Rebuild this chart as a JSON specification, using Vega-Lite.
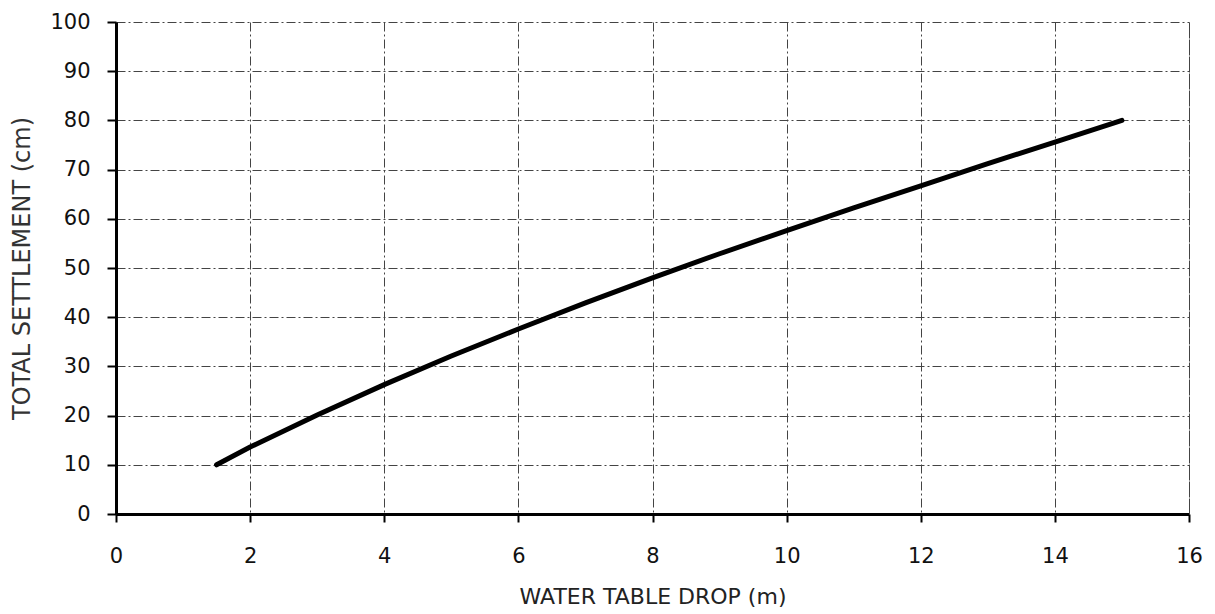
{
  "$schema": "https://vega.github.io/schema/vega-lite/v6.json",
  "autosize": "none",
  "width": 1073,
  "height": 492,
  "padding": {"left": 116, "top": 22, "right": 26, "bottom": 100},
  "background": "white",
  "config": {
    "view": {"stroke": null},
    "font": "DejaVu Sans"
  },
  "data": {
    "values": [
      {"drop": 1.5, "settlement": 10.0},
      {"drop": 2, "settlement": 13.6},
      {"drop": 3, "settlement": 20.1},
      {"drop": 4, "settlement": 26.3},
      {"drop": 5, "settlement": 32.1},
      {"drop": 6, "settlement": 37.6},
      {"drop": 7, "settlement": 42.9},
      {"drop": 8, "settlement": 48.0},
      {"drop": 9, "settlement": 52.9},
      {"drop": 10, "settlement": 57.6},
      {"drop": 11, "settlement": 62.2},
      {"drop": 12, "settlement": 66.7},
      {"drop": 13, "settlement": 71.2},
      {"drop": 14, "settlement": 75.6},
      {"drop": 15, "settlement": 80.0}
    ]
  },
  "layer": [
    {
      "mark": {"type": "line", "color": "black", "strokeWidth": 5, "strokeCap": "round"},
      "encoding": {
        "x": {
          "field": "drop", "type": "quantitative",
          "scale": {"domain": [0, 16], "nice": false},
          "axis": {
            "orient": "bottom",
            "values": [0, 2, 4, 6, 8, 10, 12, 14, 16],
            "format": "d",
            "labelFlush": false,
            "title": "WATER TABLE DROP (m)",
            "titlePadding": 20,
            "labelFont": "DejaVu Sans", "labelFontSize": 21, "labelColor": "#111",
            "titleFont": "DejaVu Sans", "titleFontSize": 22, "titleFontWeight": "normal", "titleColor": "#222",
            "domainColor": "black", "domainWidth": 3,
            "tickColor": "black", "tickWidth": 2, "tickSize": 8,
            "labelPadding": 23,
            "grid": true, "gridColor": "#444", "gridWidth": 1, "gridDash": [9, 3, 2, 3]
          }
        },
        "y": {
          "field": "settlement", "type": "quantitative",
          "scale": {"domain": [0, 100], "nice": false},
          "axis": {
            "orient": "left",
            "values": [0, 10, 20, 30, 40, 50, 60, 70, 80, 90, 100],
            "format": "d",
            "labelFlush": false,
            "title": "TOTAL SETTLEMENT (cm)",
            "titlePadding": 15,
            "labelFont": "DejaVu Sans", "labelFontSize": 21, "labelColor": "#111",
            "titleFont": "DejaVu Sans", "titleFontSize": 24, "titleFontWeight": "normal", "titleColor": "#333",
            "domainColor": "black", "domainWidth": 3,
            "tickColor": "black", "tickWidth": 2, "tickSize": 9,
            "labelPadding": 17,
            "grid": true, "gridColor": "#444", "gridWidth": 1, "gridDash": [9, 3, 2, 3]
          }
        }
      }
    },
    {
      "mark": {"type": "line", "opacity": 0},
      "encoding": {
        "x": {
          "field": "drop", "type": "quantitative",
          "scale": {"domain": [0, 16], "nice": false}
        },
        "y": {
          "field": "settlement", "type": "quantitative",
          "scale": {"domain": [0, 100], "nice": false},
          "axis": {"orient": "right", "labels": false, "ticks": false, "title": null, "domainColor": "#444", "domainWidth": 1, "domainDash": [9, 3, 2, 3], "grid": false}
        }
      }
    }
  ],
  "resolve": {"axis": {"y": "independent"}}
}
